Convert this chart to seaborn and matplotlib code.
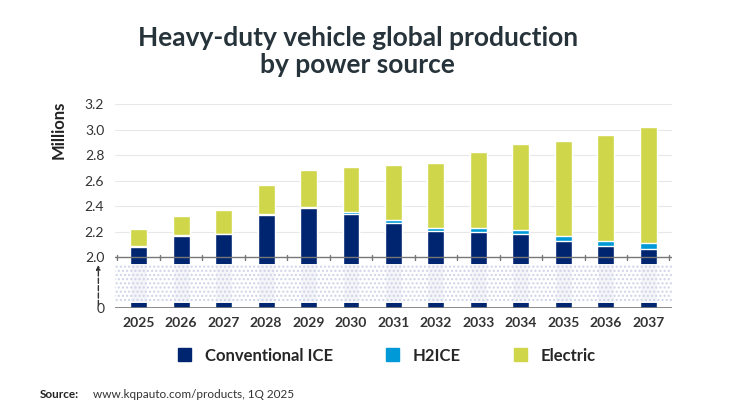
import numpy as np
import pandas as pd
import matplotlib
matplotlib.use("Agg")
import matplotlib.pyplot as plt
from matplotlib.patches import Rectangle, Patch
import seaborn as sns

years = ["2025", "2026", "2027", "2028", "2029", "2030", "2031",
         "2032", "2033", "2034", "2035", "2036", "2037"]
conventional = [2.08, 2.165, 2.18, 2.33, 2.385, 2.335, 2.27, 2.205, 2.20, 2.18, 2.125, 2.085, 2.065]
h2ice = [0.005, 0.005, 0.005, 0.005, 0.01, 0.015, 0.02, 0.025, 0.03, 0.035, 0.04, 0.045, 0.05]
electric = [0.135, 0.15, 0.185, 0.23, 0.285, 0.36, 0.43, 0.505, 0.59, 0.675, 0.745, 0.83, 0.905]
ytick_vals = [2.0, 2.2, 2.4, 2.6, 2.8, 3.0, 3.2]

c_conv, c_h2, c_el = "#002570", "#0099d8", "#cfd64a"
SHIFT = 1.6  # axis break: 0..2.0 squeezed into 0..0.4

df = pd.DataFrame({"year": years, "conv": conventional, "h2": h2ice, "el": electric})
df["t_conv"] = df["conv"] - SHIFT
df["t_h2"] = df["t_conv"] + df["h2"]
df["t_tot"] = df["t_h2"] + df["el"]

sns.set_style("white")
plt.rcParams["font.family"] = ["Lato", "DejaVu Sans"]

fig = plt.figure(figsize=(7.3, 4.11), dpi=100)
ax = fig.add_axes([0.158, 0.25, 0.762, 0.497])

sns.barplot(data=df, x="year", y="t_tot", color=c_el, width=0.4, ax=ax, saturation=1, zorder=2)
sns.barplot(data=df, x="year", y="t_h2", color=c_h2, width=0.4, ax=ax, saturation=1, zorder=3)
sns.barplot(data=df, x="year", y="t_conv", color=c_conv, width=0.4, ax=ax, saturation=1, zorder=4)

ax.set_xlim(-0.55, 12.55)
ax.set_ylim(0, 3.2 - SHIFT)

# break band
ax.add_patch(Rectangle((-0.55, 0.045), 13.1, 0.3, facecolor="white", alpha=0.96,
                       edgecolor="none", zorder=5))
ax.add_patch(Rectangle((-0.55, 0.045), 13.1, 0.3, facecolor="none", hatch="....",
                       edgecolor="#cdd3e8", linewidth=0, zorder=6))

for v in ytick_vals[1:]:
    ax.axhline(v - SHIFT, color="#e8e8e8", lw=0.8, zorder=1)
ax.axhline(0.4, color="#777777", lw=1, zorder=7)
for i in range(len(years) + 1):
    ax.plot([i - 0.5, i - 0.5], [0.38, 0.42], color="#777777", lw=1, zorder=7)
ax.axhline(0, color="#777777", lw=1.2, zorder=7)

ax.set_yticks([0] + [v - SHIFT for v in ytick_vals])
ax.set_yticklabels(["0"] + [f"{v:.1f}" for v in ytick_vals], fontsize=10, color="#333333")
ax.tick_params(axis="y", length=0, pad=8)
ax.tick_params(axis="x", length=0, pad=6)
for lbl in ax.get_xticklabels():
    lbl.set_fontweight("bold")
    lbl.set_fontsize(10)
    lbl.set_color("#333333")
ax.set_xlabel("")
ax.set_ylabel("")
for s in ax.spines.values():
    s.set_visible(False)

ax.annotate("", xy=(-0.95, 0.36), xytext=(-0.95, 0.0),
            arrowprops=dict(arrowstyle="-|>", ls="--", color="#333333", lw=1, mutation_scale=6),
            annotation_clip=False)

fig.text(0.08, 0.685, "Millions", rotation=90, fontsize=12, fontweight="bold",
         ha="center", va="center", color="#222222")
fig.text(0.49, 0.875, "Heavy-duty vehicle global production\nby power source", ha="center",
         va="center", fontsize=19, fontweight="bold", color="#26333a", linespacing=1.15)

handles = [Patch(color=c_conv, label="Conventional ICE"),
           Patch(color=c_h2, label="H2ICE"),
           Patch(color=c_el, label="Electric")]
fig.legend(handles=handles, loc="center", bbox_to_anchor=(0.53, 0.135), ncol=3, frameon=False,
           handlelength=0.8, handleheight=0.8, columnspacing=3.2,
           prop={"weight": "bold", "size": 12})

fig.text(0.055, 0.04, "Source:", fontsize=8.5, fontweight="bold", color="#222222", va="center")
fig.text(0.128, 0.04, "www.kqpauto.com/products, 1Q 2025", fontsize=8.5,
         color="#333333", va="center")

fig.savefig("out.png", dpi=100)
